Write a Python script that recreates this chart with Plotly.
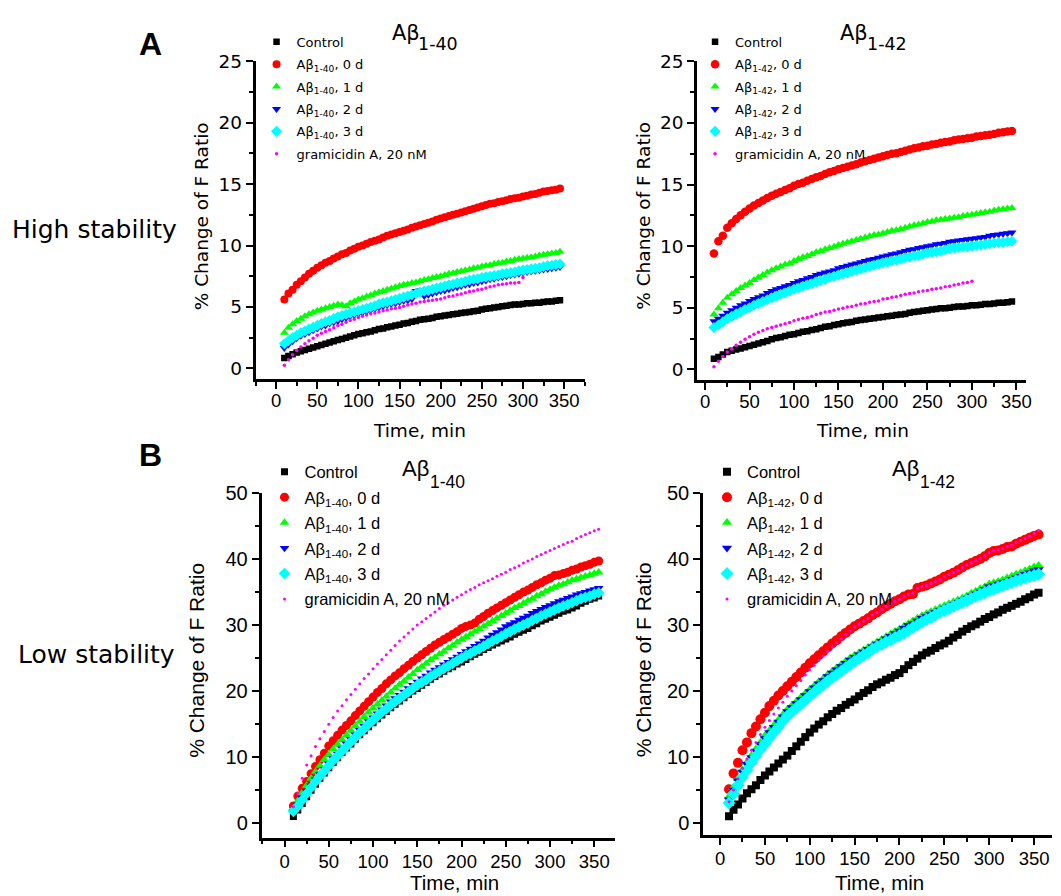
import plotly.graph_objects as go

W, H = 1061, 896

# ---------------- time grids (min) ----------------
time_hi = [10, 15, 20, 25, 30, 35, 40, 45, 50, 55,
           60, 65, 70, 75, 80, 85, 90, 95, 100, 105,
           110, 115, 120, 125, 130, 135, 140, 145, 150, 155,
           160, 165, 170, 175, 180, 185, 190, 195, 200, 205,
           210, 215, 220, 225, 230, 235, 240, 245, 250, 255,
           260, 265, 270, 275, 280, 285, 290, 295, 300, 305,
           310, 315, 320, 325, 330, 335, 340, 345]
time_hi_gram = [10, 15, 20, 25, 30, 35, 40, 45, 50, 55,
                60, 65, 70, 75, 80, 85, 90, 95, 100, 105,
                110, 115, 120, 125, 130, 135, 140, 145, 150, 155,
                160, 165, 170, 175, 180, 185, 190, 195, 200, 205,
                210, 215, 220, 225, 230, 235, 240, 245, 250, 255,
                260, 265, 270, 275, 280, 285, 290, 295, 300]
time_lo = [10, 15, 20, 25, 30, 35, 40, 45, 50, 55,
           60, 65, 70, 75, 80, 85, 90, 95, 100, 105,
           110, 115, 120, 125, 130, 135, 140, 145, 150, 155,
           160, 165, 170, 175, 180, 185, 190, 195, 200, 205,
           210, 215, 220, 225, 230, 235, 240, 245, 250, 255,
           260, 265, 270, 275, 280, 285, 290, 295, 300, 305,
           310, 315, 320, 325, 330, 335, 340, 345, 350, 355]

# ---------------- A: high stability, Abeta 1-40 ----------------
hi40_control = [0.85, 1.0, 1.15, 1.3, 1.4, 1.5, 1.6, 1.7, 1.8, 1.9,
                2.0, 2.1, 2.2, 2.3, 2.4, 2.5, 2.6, 2.7, 2.8, 2.85,
                2.95, 3.0, 3.1, 3.2, 3.25, 3.35, 3.4, 3.5, 3.55, 3.65,
                3.7, 3.8, 3.85, 3.95, 4.0, 4.05, 4.1, 4.2, 4.25, 4.3,
                4.35, 4.4, 4.45, 4.5, 4.55, 4.6, 4.65, 4.7, 4.8, 4.85,
                4.9, 4.95, 5.0, 5.05, 5.1, 5.15, 5.2, 5.2, 5.25, 5.3,
                5.3, 5.35, 5.35, 5.4, 5.45, 5.45, 5.5, 5.55]
hi40_0d = [5.6, 6.1, 6.4, 6.8, 7.1, 7.4, 7.7, 7.95, 8.2, 8.4,
           8.6, 8.75, 8.95, 9.1, 9.3, 9.4, 9.6, 9.75, 9.9, 10.0,
           10.15, 10.3, 10.4, 10.5, 10.65, 10.8, 10.9, 11.0, 11.1, 11.2,
           11.3, 11.45, 11.55, 11.65, 11.75, 11.85, 11.95, 12.1, 12.2, 12.3,
           12.4, 12.5, 12.6, 12.7, 12.8, 12.9, 13.0, 13.1, 13.2, 13.3,
           13.4, 13.45, 13.55, 13.6, 13.7, 13.8, 13.85, 13.9, 14.0, 14.05,
           14.15, 14.2, 14.3, 14.4, 14.45, 14.5, 14.55, 14.65]
hi40_1d = [2.9, 3.3, 3.6, 3.85, 4.05, 4.25, 4.4, 4.55, 4.7, 4.8,
           4.9, 5.0, 5.1, 5.2, 5.15, 5.05, 5.3, 5.45, 5.6, 5.7,
           5.85, 5.95, 6.1, 6.2, 6.3, 6.4, 6.5, 6.6, 6.7, 6.8,
           6.85, 6.95, 7.0, 7.1, 7.2, 7.25, 7.35, 7.45, 7.5, 7.6,
           7.7, 7.75, 7.85, 7.9, 8.0, 8.05, 8.15, 8.2, 8.3, 8.35,
           8.4, 8.5, 8.55, 8.6, 8.7, 8.75, 8.85, 8.9, 8.95, 9.0,
           9.05, 9.1, 9.2, 9.25, 9.3, 9.35, 9.4, 9.5]
hi40_2d = [1.65, 1.95, 2.2, 2.45, 2.65, 2.8, 2.95, 3.1, 3.25, 3.4,
           3.5, 3.65, 3.75, 3.85, 4.0, 4.1, 4.25, 4.35, 4.45, 4.55,
           4.65, 4.75, 4.85, 4.95, 5.05, 5.15, 5.25, 5.3, 5.4, 5.5,
           5.55, 5.65, 6.3, 6.35, 5.9, 6.0, 6.1, 6.2, 6.3, 6.35,
           6.45, 6.55, 6.6, 6.7, 6.8, 6.85, 6.95, 7.0, 7.1, 7.15,
           7.25, 7.3, 7.4, 7.45, 7.5, 7.6, 7.65, 7.7, 7.8, 7.85,
           7.9, 7.95, 8.0, 8.05, 8.1, 8.15, 8.2, 8.25]
hi40_3d = [2.0, 2.25, 2.5, 2.7, 2.9, 3.05, 3.2, 3.35, 3.5, 3.65,
           3.8, 3.9, 4.05, 4.2, 4.3, 4.4, 4.5, 4.6, 4.7, 4.8,
           4.9, 5.0, 5.1, 5.25, 5.35, 5.4, 5.5, 5.6, 5.7, 5.8,
           5.9, 6.0, 6.1, 6.2, 6.3, 6.35, 6.45, 6.55, 6.6, 6.7,
           6.8, 6.85, 6.95, 7.0, 7.1, 7.2, 7.25, 7.3, 7.4, 7.45,
           7.5, 7.55, 7.6, 7.7, 7.75, 7.8, 7.85, 7.95, 8.0, 8.05,
           8.1, 8.15, 8.2, 8.3, 8.35, 8.4, 8.45, 8.5]
hi40_gram = [0.25, 0.7, 1.1, 1.45, 1.75, 2.0, 2.25, 2.45, 2.7, 2.85,
             3.0, 3.15, 3.3, 3.5, 3.6, 3.75, 3.9, 4.0, 4.15, 4.25,
             4.35, 4.45, 4.5, 4.6, 4.7, 4.75, 4.85, 4.9, 4.95, 5.05,
             5.15, 5.25, 5.3, 5.4, 5.45, 5.5, 5.55, 5.6, 5.65, 5.75,
             5.85, 5.9, 6.0, 6.05, 6.15, 6.25, 6.3, 6.4, 6.45, 6.55,
             6.65, 6.7, 6.8, 6.85, 6.9, 6.95, 6.95, 7.0, 7.4]

# ---------------- A: high stability, Abeta 1-42 ----------------
hi42_control = [0.85, 1.0, 1.2, 1.4, 1.5, 1.6, 1.7, 1.8, 1.9, 2.0,
                2.1, 2.2, 2.3, 2.45, 2.55, 2.6, 2.7, 2.8, 2.85, 2.95,
                3.05, 3.1, 3.2, 3.25, 3.35, 3.45, 3.5, 3.6, 3.65, 3.75,
                3.8, 3.85, 3.95, 4.0, 4.05, 4.1, 4.15, 4.2, 4.25, 4.3,
                4.35, 4.4, 4.45, 4.5, 4.6, 4.65, 4.7, 4.75, 4.8, 4.85,
                4.9, 4.95, 4.95, 5.0, 5.05, 5.1, 5.1, 5.15, 5.2, 5.2,
                5.25, 5.3, 5.3, 5.35, 5.4, 5.4, 5.45, 5.5]
hi42_0d = [9.4, 10.4, 10.85, 11.5, 11.85, 12.2, 12.5, 12.8, 13.05, 13.3,
           13.5, 13.7, 13.9, 14.1, 14.25, 14.4, 14.55, 14.7, 14.9, 15.05,
           15.15, 15.3, 15.45, 15.6, 15.7, 15.85, 16.0, 16.1, 16.25, 16.35,
           16.45, 16.55, 16.65, 16.8, 16.9, 17.0, 17.1, 17.2, 17.3, 17.4,
           17.5, 17.55, 17.65, 17.75, 17.85, 17.95, 18.0, 18.1, 18.15, 18.25,
           18.3, 18.4, 18.45, 18.5, 18.6, 18.65, 18.7, 18.75, 18.8, 18.9,
           18.95, 19.0, 19.05, 19.1, 19.2, 19.25, 19.3, 19.35]
hi42_1d = [4.45, 4.95, 5.4, 5.8, 6.1, 6.35, 6.6, 6.8, 7.0, 7.25,
           7.45, 7.65, 7.85, 8.05, 8.2, 8.35, 8.5, 8.6, 8.8, 8.95,
           9.1, 9.2, 9.35, 9.5, 9.6, 9.75, 9.85, 9.95, 10.1, 10.2,
           10.3, 10.4, 10.5, 10.6, 10.7, 10.8, 10.9, 10.95, 11.05, 11.15,
           11.25, 11.3, 11.4, 11.5, 11.6, 11.7, 11.75, 11.85, 11.95, 12.0,
           12.1, 12.15, 12.2, 12.25, 12.3, 12.35, 12.45, 12.5, 12.55, 12.6,
           12.7, 12.75, 12.8, 12.9, 12.95, 13.0, 13.05, 13.1]
hi42_2d = [3.9, 4.1, 4.35, 4.6, 4.8, 5.0, 5.2, 5.35, 5.55, 5.7,
           5.85, 6.0, 6.2, 6.35, 6.5, 6.6, 6.75, 6.85, 7.0, 7.15,
           7.25, 7.4, 7.5, 7.65, 7.75, 7.85, 7.95, 8.05, 8.2, 8.3,
           8.4, 8.5, 8.6, 8.7, 8.8, 8.9, 8.95, 9.05, 9.15, 9.25,
           9.35, 9.4, 9.5, 9.6, 9.7, 9.75, 9.85, 9.9, 10.0, 10.05,
           10.15, 10.2, 10.25, 10.35, 10.4, 10.45, 10.5, 10.55, 10.6, 10.65,
           10.7, 10.75, 10.85, 10.9, 10.95, 11.0, 11.05, 11.1]
hi42_3d = [3.4, 3.6, 3.85, 4.1, 4.3, 4.5, 4.65, 4.85, 5.0, 5.2,
           5.35, 5.5, 5.65, 5.8, 5.95, 6.1, 6.2, 6.35, 6.5, 6.6,
           6.75, 6.85, 6.95, 7.1, 7.2, 7.3, 7.45, 7.55, 7.65, 7.75,
           7.85, 7.95, 8.05, 8.15, 8.25, 8.35, 8.45, 8.55, 8.65, 8.7,
           8.8, 8.85, 8.95, 9.05, 9.1, 9.2, 9.25, 9.35, 9.45, 9.5,
           9.55, 9.6, 9.7, 9.8, 9.85, 9.9, 9.95, 9.95, 10.0, 10.05,
           10.1, 10.15, 10.2, 10.25, 10.3, 10.3, 10.35, 10.4]
hi42_gram = [0.2, 0.65, 1.05, 1.4, 1.65, 1.95, 2.2, 2.45, 2.65, 2.85,
             3.0, 3.15, 3.3, 3.4, 3.5, 3.6, 3.7, 3.8, 3.95, 4.05,
             4.15, 4.2, 4.3, 4.45, 4.55, 4.65, 4.7, 4.8, 4.9, 4.95,
             5.05, 5.1, 5.2, 5.3, 5.35, 5.45, 5.5, 5.55, 5.7, 5.75,
             5.85, 5.9, 6.0, 6.1, 6.15, 6.2, 6.3, 6.35, 6.4, 6.5,
             6.55, 6.6, 6.7, 6.75, 6.85, 6.9, 7.0, 7.05, 7.15]

# ---------------- B: low stability, Abeta 1-40 ----------------
lo40_control = [1.0, 2.0, 3.0, 4.0, 5.0, 5.9, 6.8, 7.6, 8.4, 9.2,
                9.9, 10.7, 11.4, 12.0, 12.7, 13.4, 14.0, 14.6, 15.2, 15.8,
                16.4, 16.9, 17.5, 18.0, 18.5, 19.0, 19.5, 20.0, 20.4, 20.9,
                21.3, 21.8, 22.2, 22.6, 23.0, 23.4, 23.7, 24.1, 24.4, 24.8,
                25.2, 25.6, 25.9, 26.3, 26.6, 27.0, 27.3, 27.6, 27.9, 28.2,
                28.6, 28.9, 29.2, 29.5, 29.9, 30.2, 30.6, 30.9, 31.2, 31.5,
                31.8, 32.1, 32.3, 32.6, 32.9, 33.3, 33.6, 33.9, 34.1, 34.4]
lo40_0d = [2.6, 4.1, 5.3, 6.3, 7.5, 8.6, 9.6, 10.6, 11.7, 12.5,
           13.3, 14.1, 14.8, 15.5, 16.3, 17.0, 17.7, 18.4, 19.1, 19.8,
           20.4, 21.1, 21.7, 22.3, 22.8, 23.4, 23.9, 24.5, 25.0, 25.5,
           26.0, 26.5, 27.0, 27.4, 27.8, 28.2, 28.6, 29.0, 29.5, 29.8,
           30.0, 30.3, 30.9, 31.3, 31.8, 32.2, 32.6, 33.0, 33.4, 33.8,
           34.2, 34.6, 35.0, 35.3, 35.7, 36.1, 36.4, 36.8, 37.1, 37.5,
           37.6, 37.8, 38.0, 38.3, 38.5, 38.8, 39.0, 39.2, 39.5, 39.7]
lo40_1d = [2.2, 3.4, 4.6, 5.7, 6.8, 7.8, 8.7, 9.6, 10.4, 11.2,
           11.9, 12.6, 13.3, 14.0, 14.7, 15.4, 16.1, 16.8, 17.4, 18.0,
           18.6, 19.2, 19.8, 20.4, 21.0, 21.5, 22.1, 22.6, 23.2, 23.7,
           24.2, 24.7, 25.1, 25.6, 26.0, 26.5, 26.9, 27.4, 27.8, 28.2,
           28.6, 29.0, 29.4, 29.8, 30.2, 30.6, 31.0, 31.4, 31.8, 32.2,
           32.6, 32.9, 33.3, 33.7, 34.0, 34.4, 34.7, 35.1, 35.4, 35.7,
           36.0, 36.2, 36.5, 36.8, 37.0, 37.2, 37.4, 37.6, 37.8, 38.0]
lo40_2d = [1.8, 2.8, 3.8, 4.8, 5.7, 6.6, 7.4, 8.2, 9.0, 9.8,
           10.5, 11.3, 12.0, 12.7, 13.4, 14.1, 14.7, 15.4, 16.0, 16.6,
           17.2, 17.8, 18.4, 18.9, 19.4, 19.9, 20.4, 20.9, 21.4, 21.9,
           22.3, 22.8, 23.2, 23.6, 24.0, 24.4, 24.8, 25.2, 25.6, 26.0,
           26.4, 26.8, 27.2, 27.6, 28.1, 28.5, 28.9, 29.3, 29.8, 30.1,
           30.4, 30.8, 31.1, 31.4, 31.8, 32.1, 32.4, 32.7, 33.0, 33.3,
           33.6, 33.8, 34.1, 34.3, 34.6, 34.8, 35.0, 35.2, 35.4, 35.6]
lo40_3d = [1.8, 2.6, 3.5, 4.5, 5.4, 6.3, 7.1, 7.9, 8.7, 9.5,
           10.2, 10.9, 11.6, 12.3, 13.0, 13.7, 14.3, 15.0, 15.6, 16.2,
           16.8, 17.3, 17.9, 18.4, 18.9, 19.4, 19.9, 20.4, 20.9, 21.3,
           21.7, 22.2, 22.6, 23.0, 23.4, 23.8, 24.2, 24.6, 25.0, 25.4,
           25.7, 26.1, 26.4, 26.8, 27.2, 27.6, 27.9, 28.3, 28.7, 29.0,
           29.4, 29.7, 30.0, 30.3, 30.7, 31.0, 31.4, 31.7, 32.0, 32.3,
           32.6, 32.9, 33.1, 33.4, 33.7, 34.0, 34.2, 34.4, 34.7, 34.9]
lo40_gram = [2.5, 4.5, 6.8, 8.8, 10.2, 11.6, 12.8, 13.9, 15.0, 16.0,
             17.0, 17.8, 18.7, 19.5, 20.3, 21.1, 21.9, 22.6, 23.4, 24.1,
             24.8, 25.5, 26.2, 26.9, 27.6, 28.2, 28.8, 29.4, 30.0, 30.5,
             31.0, 31.5, 32.0, 32.5, 33.0, 33.4, 33.8, 34.2, 34.6, 35.0,
             35.4, 35.7, 36.1, 36.4, 36.7, 37.0, 37.4, 37.7, 38.0, 38.4,
             38.7, 39.0, 39.4, 39.7, 40.0, 40.4, 40.7, 41.0, 41.3, 41.6,
             41.9, 42.2, 42.5, 42.7, 43.1, 43.4, 43.7, 44.0, 44.3, 44.5]

# ---------------- B: low stability, Abeta 1-42 ----------------
lo42_control = [1.0, 2.0, 2.8, 3.7, 4.5, 5.1, 5.7, 6.5, 7.2, 7.8,
                8.4, 9.0, 9.6, 10.2, 10.9, 11.6, 12.3, 13.0, 13.7, 14.3,
                14.9, 15.4, 16.0, 16.5, 17.0, 17.4, 17.9, 18.3, 18.7, 19.2,
                19.7, 20.1, 20.6, 21.0, 21.3, 21.7, 22.0, 22.4, 22.7, 23.3,
                23.9, 24.4, 24.9, 25.4, 25.8, 26.1, 26.5, 26.9, 27.2, 27.6,
                28.1, 28.5, 29.0, 29.4, 29.8, 30.1, 30.5, 30.9, 31.2, 31.6,
                31.9, 32.3, 32.6, 32.9, 33.2, 33.5, 33.9, 34.2, 34.6, 34.9]
lo42_0d = [5.1, 7.5, 9.1, 11.0, 12.2, 13.6, 14.6, 15.7, 16.7, 17.7,
           18.5, 19.3, 20.0, 20.7, 21.4, 22.1, 22.8, 23.5, 24.2, 24.8,
           25.4, 26.0, 26.6, 27.2, 27.7, 28.3, 28.8, 29.3, 29.8, 30.2,
           30.6, 31.0, 31.5, 31.9, 32.4, 32.8, 33.2, 33.6, 33.9, 34.3,
           34.6, 34.7, 35.6, 35.8, 36.0, 36.3, 36.6, 36.9, 37.3, 37.6,
           37.9, 38.3, 38.7, 39.1, 39.4, 39.7, 40.0, 40.4, 40.9, 41.2,
           41.3, 41.5, 41.8, 41.9, 42.3, 42.6, 42.9, 43.2, 43.5, 43.7]
lo42_1d = [4.0, 5.4, 6.7, 8.0, 9.2, 10.2, 11.2, 12.2, 13.2, 14.0,
           14.8, 15.6, 16.4, 17.2, 17.8, 18.4, 19.0, 19.6, 20.2, 20.8,
           21.4, 21.9, 22.5, 23.0, 23.5, 24.0, 24.5, 25.0, 25.4, 25.8,
           26.2, 26.6, 27.0, 27.4, 27.8, 28.2, 28.6, 29.0, 29.4, 29.8,
           30.2, 30.6, 31.0, 31.4, 31.7, 32.0, 32.3, 32.6, 32.9, 33.2,
           33.5, 33.8, 34.1, 34.4, 34.8, 35.1, 35.5, 35.8, 36.2, 36.4,
           36.6, 36.8, 37.1, 37.4, 37.7, 37.9, 38.2, 38.5, 38.8, 39.0]
lo42_2d = [3.5, 5.0, 6.4, 7.7, 8.9, 9.9, 10.9, 11.9, 12.8, 13.7,
           14.5, 15.3, 16.1, 16.9, 17.5, 18.1, 18.7, 19.3, 19.9, 20.5,
           21.1, 21.6, 22.2, 22.7, 23.2, 23.7, 24.2, 24.7, 25.1, 25.5,
           25.9, 26.3, 26.7, 27.1, 27.5, 27.9, 28.3, 28.7, 29.1, 29.5,
           29.9, 30.2, 30.6, 31.0, 31.3, 31.6, 31.9, 32.2, 32.5, 32.8,
           33.1, 33.4, 33.7, 34.0, 34.4, 34.7, 35.0, 35.4, 35.8, 36.0,
           36.2, 36.4, 36.6, 36.9, 37.1, 37.4, 37.7, 37.9, 38.2, 38.4]
lo42_3d = [3.0, 4.4, 5.7, 6.9, 8.0, 9.1, 10.1, 11.1, 12.0, 12.9,
           13.7, 14.5, 15.4, 16.2, 16.8, 17.4, 18.0, 18.6, 19.2, 19.8,
           20.4, 20.9, 21.5, 22.0, 22.5, 23.0, 23.5, 24.0, 24.5, 24.9,
           25.4, 25.8, 26.3, 26.7, 27.0, 27.4, 27.7, 28.1, 28.4, 28.8,
           29.2, 29.6, 30.0, 30.4, 30.8, 31.1, 31.5, 31.9, 32.2, 32.5,
           32.8, 33.1, 33.4, 33.7, 34.0, 34.3, 34.6, 34.9, 35.2, 35.4,
           35.7, 35.9, 36.2, 36.4, 36.7, 36.9, 37.1, 37.3, 37.5, 37.7]
lo42_gram = [3.2, 5.0, 6.7, 8.3, 9.7, 11.0, 12.2, 13.4, 14.5, 15.5,
             16.5, 17.4, 18.3, 19.2, 20.0, 20.8, 21.6, 22.4, 23.2, 23.9,
             24.6, 25.3, 26.0, 26.7, 27.3, 27.9, 28.5, 29.1, 29.7, 30.2,
             30.6, 31.0, 31.5, 31.9, 32.4, 32.8, 33.2, 33.6, 33.9, 34.3,
             34.6, 34.8, 35.6, 35.8, 36.0, 36.3, 36.6, 36.9, 37.3, 37.6,
             37.9, 38.3, 38.7, 39.1, 39.4, 39.8, 40.1, 40.5, 41.0, 41.3,
             41.4, 41.6, 41.9, 42.1, 42.5, 42.8, 43.1, 43.5, 43.9, 44.3]

# ---------------- labels ----------------
x_ticks = [0, 50, 100, 150, 200, 250, 300, 350]
y_ticks_hi = [0, 5, 10, 15, 20, 25]
y_ticks_lo = [0, 10, 20, 30, 40, 50]
series_labels_40 = ["Control", "Aβ<sub>1-40</sub>, 0 d", "Aβ<sub>1-40</sub>, 1 d",
                    "Aβ<sub>1-40</sub>, 2 d", "Aβ<sub>1-40</sub>, 3 d", "gramicidin A, 20 nM"]
series_labels_42 = ["Control", "Aβ<sub>1-42</sub>, 0 d", "Aβ<sub>1-42</sub>, 1 d",
                    "Aβ<sub>1-42</sub>, 2 d", "Aβ<sub>1-42</sub>, 3 d", "gramicidin A, 20 nM"]
y_title = "% Change of F Ratio"
x_title = "Time, min"

COLORS = ["#000000", "#FF0000", "#00FF00", "#0000FF", "#00FFFF", "#FF00FF"]
SYMBOLS = ["square", "circle", "triangle-up", "triangle-down", "diamond", "circle"]

FA = "DejaVu Sans"
FB = "Liberation Sans, Arial, sans-serif"


def px(xp):
    return xp / W


def py(yp):
    return 1 - yp / H


panels = [
    dict(ax="", leg="legend", labels=series_labels_40,
         series=[(time_hi, hi40_control), (time_hi, hi40_0d), (time_hi, hi40_1d),
                 (time_hi, hi40_2d), (time_hi, hi40_3d), (time_hi_gram, hi40_gram)],
         sizes=[6.5, 8, 8, 8, 8.5, 3.5],
         xdom=(257, 588), ydom=(373, 51), xr=[-25, 375], yr=[-0.9, 25],
         yticks=y_ticks_hi, ymin=2.5, yfont=FA, yfs=18.5, lfont=FA, lfs=13,
         leg_xy=(258, 16), gap=2.5, xstand=-4),
    dict(ax="2", leg="legend2", labels=series_labels_42,
         series=[(time_hi, hi42_control), (time_hi, hi42_0d), (time_hi, hi42_1d),
                 (time_hi, hi42_2d), (time_hi, hi42_3d), (time_hi_gram, hi42_gram)],
         sizes=[6.5, 8.5, 8, 8, 8.5, 3.5],
         xdom=(701, 1032), ydom=(374, 51), xr=[-9, 361], yr=[-0.9, 25],
         yticks=y_ticks_hi, ymin=2.5, yfont=FA, yfs=18.5, lfont=FA, lfs=13,
         leg_xy=(699, 16), gap=2.5, xstand=-4),
    dict(ax="3", leg="legend3", labels=series_labels_40,
         series=[(time_lo, lo40_control), (time_lo, lo40_0d), (time_lo, lo40_1d),
                 (time_lo, lo40_2d), (time_lo, lo40_3d), (time_lo, lo40_gram)],
         sizes=[7, 9, 8.5, 8.5, 9, 3],
         xdom=(263, 619), ydom=(837, 488), xr=[-26, 374], yr=[-2.2, 50],
         yticks=y_ticks_lo, ymin=5, yfont=FB, yfs=20, lfont=FB, lfs=16.5,
         leg_xy=(266, 449), gap=1, xstand=-2),
    dict(ax="4", leg="legend4", labels=series_labels_42,
         series=[(time_lo, lo42_control), (time_lo, lo42_0d), (time_lo, lo42_1d),
                 (time_lo, lo42_2d), (time_lo, lo42_3d), (time_lo, lo42_gram)],
         sizes=[8, 10, 9, 9, 10, 3],
         xdom=(707, 1058), ydom=(834, 488), xr=[-19, 370], yr=[-1.8, 50],
         yticks=y_ticks_lo, ymin=5, yfont=FB, yfs=20, lfont=FB, lfs=16.5,
         leg_xy=(711, 449), gap=1, xstand=-2),
]

fig = go.Figure()
layout = dict(width=W, height=H, margin=dict(l=0, r=0, t=0, b=0), autosize=False,
              paper_bgcolor="white", plot_bgcolor="white", showlegend=True)

for p in panels:
    xa = "x" + p["ax"]
    ya = "y" + p["ax"]
    for i, ((xs, ys), name) in enumerate(zip(p["series"], p["labels"])):
        fig.add_trace(go.Scatter(
            x=xs, y=ys, mode="markers", name=name,
            xaxis=xa, yaxis=ya, legend=p["leg"], legendgroup=p["leg"] + "_" + str(i),
            marker=dict(symbol=SYMBOLS[i], size=p["sizes"][i], color=COLORS[i],
                        line=dict(width=0)),
        ))
    axis_common = dict(showline=True, linecolor="black", linewidth=2.5,
                       showgrid=False, zeroline=False, ticks="outside",
                       ticklen=7, tickwidth=2, tickcolor="black", mirror=False)
    layout["xaxis" + p["ax"]] = dict(
        axis_common, domain=[px(p["xdom"][0]), px(p["xdom"][1])], range=p["xr"],
        anchor=ya, tickmode="array", tickvals=x_ticks,
        tickfont=dict(family=FB, size=18.5, color="black"),
        ticklabelstandoff=p["xstand"],
        minor=dict(ticks="outside", dtick=25, tick0=0, ticklen=4, tickwidth=2,
                   tickcolor="black"))
    layout["yaxis" + p["ax"]] = dict(
        axis_common, domain=[py(p["ydom"][0]), py(p["ydom"][1])], range=p["yr"],
        anchor=xa, tickmode="array", tickvals=p["yticks"],
        tickfont=dict(family=p["yfont"], size=p["yfs"], color="black"),
        minor=dict(ticks="outside", dtick=p["ymin"], tick0=0, ticklen=4, tickwidth=2,
                   tickcolor="black"))
    layout[p["leg"]] = dict(
        x=px(p["leg_xy"][0]), y=py(p["leg_xy"][1]), xanchor="left", yanchor="top",
        bgcolor="rgba(0,0,0,0)", borderwidth=0, traceorder="grouped",
        font=dict(family=p["lfont"], size=p["lfs"], color="black"),
        tracegroupgap=p["gap"], itemwidth=30)

ann = []


def add_text(text, x, y, size, family, angle=0, bold=False, xanchor="center"):
    if bold:
        text = "<b>" + text + "</b>"
    ann.append(dict(text=text, x=px(x), y=py(y), xref="paper", yref="paper",
                    showarrow=False, xanchor=xanchor, yanchor="middle",
                    textangle=angle, font=dict(family=family, size=size, color="black")))


# panel letters and row labels
add_text("A", 151, 33, 32, "Liberation Sans, Arial", bold=True)
add_text("B", 151, 450, 32, "Liberation Sans, Arial", bold=True)
add_text("High stability", 95, 221, 25, FA)
add_text("Low stability", 97, 652, 25, FA)

# axis titles
add_text(y_title, 203, 208, 18.5, FA, angle=-90)
add_text(y_title, 647, 207, 18.5, FA, angle=-90)
add_text(y_title, 198, 657, 21, FB, angle=-90)
add_text(y_title, 648, 657, 21, FB, angle=-90)
add_text(x_title, 422, 425, 18.5, FA)
add_text(x_title, 867, 425, 18.5, FA)
add_text(x_title, 457, 882, 20.5, FB)
add_text(x_title, 885, 882, 20.5, FB)

# panel titles
add_text("Aβ", 392, 22, 21, FA, xanchor="left")
add_text("1-40", 418, 33, 17.5, FA, xanchor="left")
add_text("Aβ", 843, 22, 21, FA, xanchor="left")
add_text("1-42", 870, 33, 17.5, FA, xanchor="left")
add_text("Aβ", 402, 463, 22, FB, xanchor="left")
add_text("1-40", 430, 477, 17.5, FB, xanchor="left")
add_text("Aβ", 895, 463, 22, FB, xanchor="left")
add_text("1-42", 923, 477, 17.5, FB, xanchor="left")

layout["annotations"] = ann
fig.update_layout(**layout)
fig.write_html("out.html")
